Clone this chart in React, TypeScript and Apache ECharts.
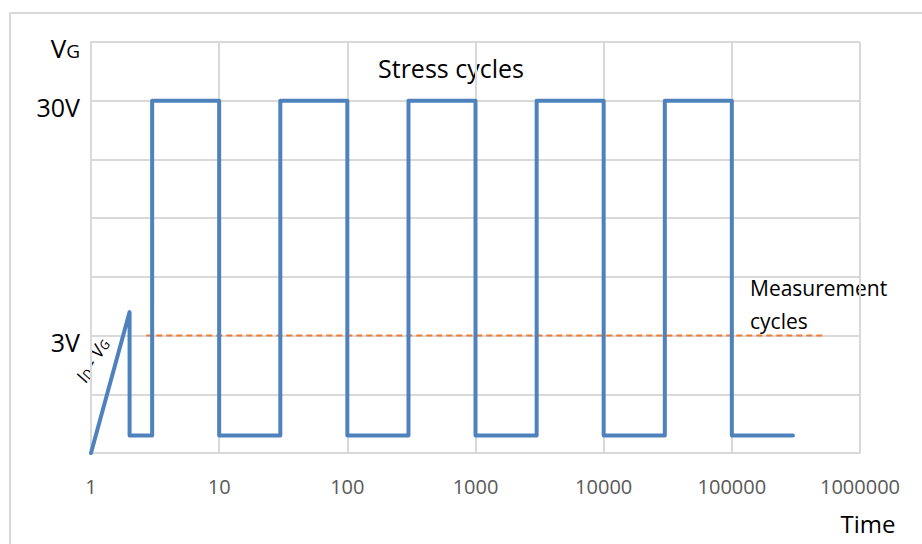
import React, { useEffect, useRef } from "react";
import * as echarts from "echarts";

const timeValues = [1, 2, 2, 3, 3, 10, 10, 30, 30, 100, 100, 300, 300, 1000, 1000, 3000, 3000, 10000, 10000, 30000, 30000, 100000, 100000, 300000];
const gateValues = [0, 12, 1.5, 1.5, 30, 30, 1.5, 1.5, 30, 30, 1.5, 1.5, 30, 30, 1.5, 1.5, 30, 30, 1.5, 1.5, 30, 30, 1.5, 1.5];
const measureTimes = [2.7, 540000];
const measureValues = [10, 10];
const xTickLabels = ["1", "10", "100", "1000", "10000", "100000", "1000000"];
const yTickLabels: Record<number, string> = { 10: "3V", 30: "30V", 35: "{v|V}{s|G}" };

const FONT = "'Open Sans', sans-serif";

export default function App() {
  const ref = useRef<HTMLDivElement>(null);
  useEffect(() => {
    document.body.style.margin = "0";
    const chart = echarts.init(ref.current!, null, { renderer: "svg" });
    chart.setOption({
      animation: false,
      backgroundColor: "#ffffff",
      grid: { left: 91, top: 42, right: 62, bottom: 91, containLabel: false },
      xAxis: {
        type: "log",
        logBase: 10,
        min: 1,
        max: 1000000,
        axisLine: { show: true, lineStyle: { color: "#d9d9d9", width: 2 } },
        axisTick: { show: false },
        splitLine: { show: true, lineStyle: { color: "#d9d9d9", width: 2 } },
        axisLabel: {
          margin: 23,
          color: "#595959",
          fontSize: 20,
          fontFamily: FONT,
          formatter: (v: number) => xTickLabels[Math.round(Math.log10(v))] ?? "",
        },
      },
      yAxis: {
        type: "value",
        min: 0,
        max: 35,
        interval: 5,
        axisLine: { show: true, lineStyle: { color: "#d9d9d9", width: 2 } },
        axisTick: { show: false },
        splitLine: { show: true, lineStyle: { color: "#d9d9d9", width: 2 } },
        axisLabel: {
          margin: 11,
          color: "#000000",
          fontSize: 25,
          fontFamily: FONT,
          padding: [12, 0, 0, 0],
          formatter: (v: number) => yTickLabels[v] ?? "",
          rich: {
            v: { fontSize: 26, fontFamily: FONT, color: "#000" },
            s: { fontSize: 19, fontFamily: FONT, color: "#000", padding: [6, 0, 0, 0] },
          },
        },
      },
      graphic: [
        {
          type: "rect",
          shape: { x: 10, y: 13, width: 940, height: 560 },
          style: { fill: "none", stroke: "#d9d9d9", lineWidth: 2 },
          silent: true,
        },
        {
          type: "text",
          x: 451,
          y: 68,
          style: { text: "Stress cycles", fontSize: 25, fontFamily: FONT, fill: "#000", align: "center", verticalAlign: "middle" },
        },
        {
          type: "text",
          x: 750,
          y: 304,
          style: { text: "Measurement\ncycles", fontSize: 21, lineHeight: 33, fontFamily: FONT, fill: "#000", align: "left", verticalAlign: "middle" },
        },
        {
          type: "text",
          x: 868,
          y: 523,
          style: { text: "Time", fontSize: 24, fontFamily: FONT, fill: "#000", align: "center", verticalAlign: "middle" },
        },
        {
          type: "text",
          x: 92,
          y: 360,
          rotation: (60 * Math.PI) / 180,
          style: {
            text: "{i|I}{sub|D}{i| - V}{sub|G}",
            align: "center",
            verticalAlign: "middle",
            rich: {
              i: { fontSize: 18, fontStyle: "italic", fontFamily: FONT, fill: "#000" },
              sub: { fontSize: 13, fontStyle: "italic", fontFamily: FONT, fill: "#000", padding: [6, 0, 0, 0] },
            },
          },
        },
      ],
      series: [
        {
          type: "line",
          data: measureTimes.map((t, i) => [t, measureValues[i]]),
          symbol: "none",
          lineStyle: { color: "#ed7d31", width: 2, type: [6, 4] },
          z: 2,
        },
        {
          type: "line",
          data: timeValues.map((t, i) => [t, gateValues[i]]),
          symbol: "none",
          lineStyle: { color: "#4f81bd", width: 4, join: "round", cap: "round" },
          z: 3,
        },
      ],
    });
    return () => chart.dispose();
  }, []);
  return <div ref={ref} style={{ width: 922, height: 544 }} />;
}
